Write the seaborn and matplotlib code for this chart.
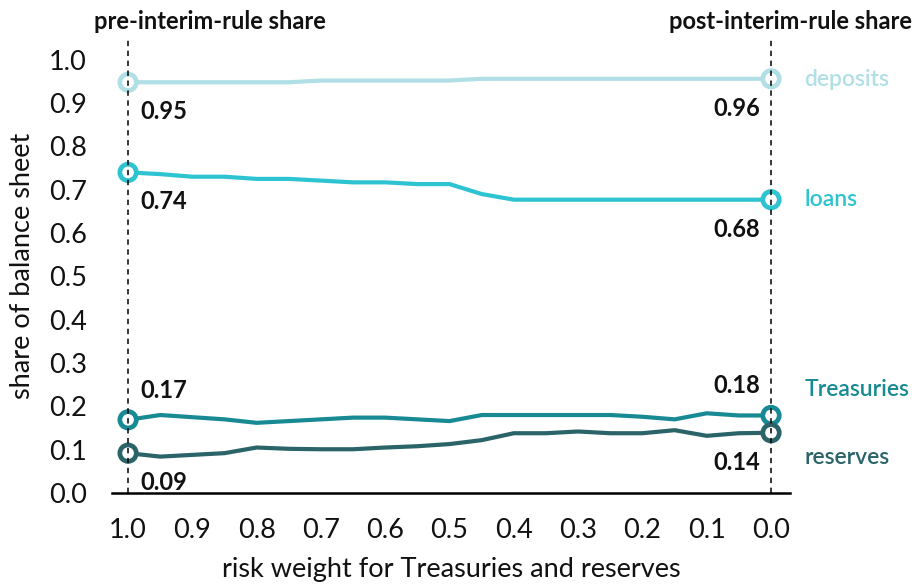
import matplotlib
matplotlib.use("Agg")
import matplotlib.pyplot as plt
import seaborn as sns
import numpy as np
import pandas as pd

risk_weight = [1.0, 0.95, 0.9, 0.85, 0.8, 0.75, 0.7, 0.65, 0.6, 0.55, 0.5,
               0.45, 0.4, 0.35, 0.3, 0.25, 0.2, 0.15, 0.1, 0.05, 0.0]
deposits = [0.948, 0.948, 0.948, 0.948, 0.948, 0.948, 0.952, 0.952, 0.952, 0.952, 0.952,
            0.956, 0.956, 0.956, 0.956, 0.956, 0.956, 0.956, 0.956, 0.956, 0.956]
loans = [0.740, 0.736, 0.730, 0.730, 0.725, 0.725, 0.721, 0.717, 0.717, 0.713, 0.713,
         0.690, 0.677, 0.677, 0.677, 0.677, 0.677, 0.677, 0.677, 0.677, 0.677]
treasuries = [0.169, 0.180, 0.175, 0.170, 0.162, 0.166, 0.170, 0.174, 0.174, 0.170, 0.166,
              0.180, 0.180, 0.180, 0.180, 0.180, 0.176, 0.170, 0.184, 0.179, 0.179]
reserves = [0.092, 0.084, 0.088, 0.092, 0.105, 0.102, 0.101, 0.101, 0.105, 0.108, 0.113,
            0.122, 0.138, 0.138, 0.142, 0.138, 0.138, 0.145, 0.132, 0.138, 0.139]

series_names = ["deposits", "loans", "Treasuries", "reserves"]
series_colors = ["#B0DFE5", "#2EC3D1", "#178A94", "#2A6469"]
start_labels = ["0.95", "0.74", "0.17", "0.09"]
end_labels = ["0.96", "0.68", "0.18", "0.14"]
start_above = [False, False, True, False]
end_above = [False, False, True, False]
x_ticks = [1.0, 0.9, 0.8, 0.7, 0.6, 0.5, 0.4, 0.3, 0.2, 0.1, 0.0]
y_ticks = [0.0, 0.1, 0.2, 0.3, 0.4, 0.5, 0.6, 0.7, 0.8, 0.9, 1.0]

sns.set_style("white")
plt.rcParams['font.family'] = ['Lato', 'DejaVu Sans']

values = [deposits, loans, treasuries, reserves]
df = pd.DataFrame({
    "risk": np.tile(risk_weight, len(series_names)),
    "share": np.concatenate(values),
    "series": np.repeat(series_names, len(risk_weight)),
})
palette = dict(zip(series_names, series_colors))

fig = plt.figure(figsize=(9.15, 5.84), dpi=100)
ax = fig.add_axes([0.1224, 0.1558, 0.7410, 0.779])

sns.lineplot(data=df, x="risk", y="share", hue="series", hue_order=series_names,
             palette=palette, linewidth=3.0, legend=False, ax=ax, zorder=2)

ends = df[df["risk"].isin([risk_weight[0], risk_weight[-1]])]
sns.scatterplot(data=ends, x="risk", y="share", hue="series", hue_order=series_names,
                palette=palette, legend=False, ax=ax, s=140, marker="o",
                linewidth=3.4, zorder=3)
coll = ax.collections[-1]
coll.set_facecolor("white")
coll.set_edgecolor([palette[s] for s in ends["series"]])

for xv in [risk_weight[0], risk_weight[-1]]:
    ax.axvline(xv, ymin=0, ymax=1, color="black", linestyle=(0, (3.5, 3)),
               linewidth=1.1, zorder=4)

for i, name in enumerate(series_names):
    v = values[i]
    dy = 13 if start_above[i] else -13
    ax.annotate(start_labels[i], (risk_weight[0], v[0]), xytext=(9, dy),
                textcoords="offset points", ha="left",
                va="bottom" if start_above[i] else "top",
                fontsize=17, fontweight="bold", color="#111111")
    dy = 13 if end_above[i] else -13
    ax.annotate(end_labels[i], (risk_weight[-1], v[-1]), xytext=(-8, dy),
                textcoords="offset points", ha="right",
                va="bottom" if end_above[i] else "top",
                fontsize=17, fontweight="bold", color="#111111")

label_y = [0.955, 0.677, 0.238, 0.081]
for i, name in enumerate(series_names):
    ax.annotate(name, (risk_weight[-1], label_y[i]), xytext=(24, 0),
                textcoords="offset points", ha="left", va="center",
                fontsize=16.5, fontweight="semibold", color=series_colors[i],
                annotation_clip=False)

ax.set_xlim(1.025, -0.0295)
ax.set_ylim(0, 1.05)
ax.set_xticks(x_ticks)
ax.set_xticklabels([f"{t:.1f}" for t in x_ticks])
ax.set_yticks(y_ticks)
ax.set_yticklabels([f"{t:.1f}" for t in y_ticks])
ax.tick_params(axis="both", length=0, labelsize=19.5, labelcolor="#111111")
ax.tick_params(axis="x", pad=18)
ax.tick_params(axis="y", pad=18)

for side in ["top", "right", "left"]:
    ax.spines[side].set_visible(False)
ax.spines["bottom"].set_color("black")
ax.spines["bottom"].set_linewidth(1.8)

ax.set_xlabel("risk weight for Treasuries and reserves", fontsize=19.5,
              color="#111111", labelpad=10)
ax.set_ylabel("share of balance sheet", fontsize=19.5,
              color="#111111", labelpad=10)

fig.text(0.2295, 0.963, "pre-interim-rule share", ha="center", va="center",
         fontsize=17, fontweight="bold", color="#111111")
fig.text(0.997, 0.963, "post-interim-rule share", ha="right", va="center",
         fontsize=17, fontweight="bold", color="#111111")

fig.savefig("out.png", dpi=100)
